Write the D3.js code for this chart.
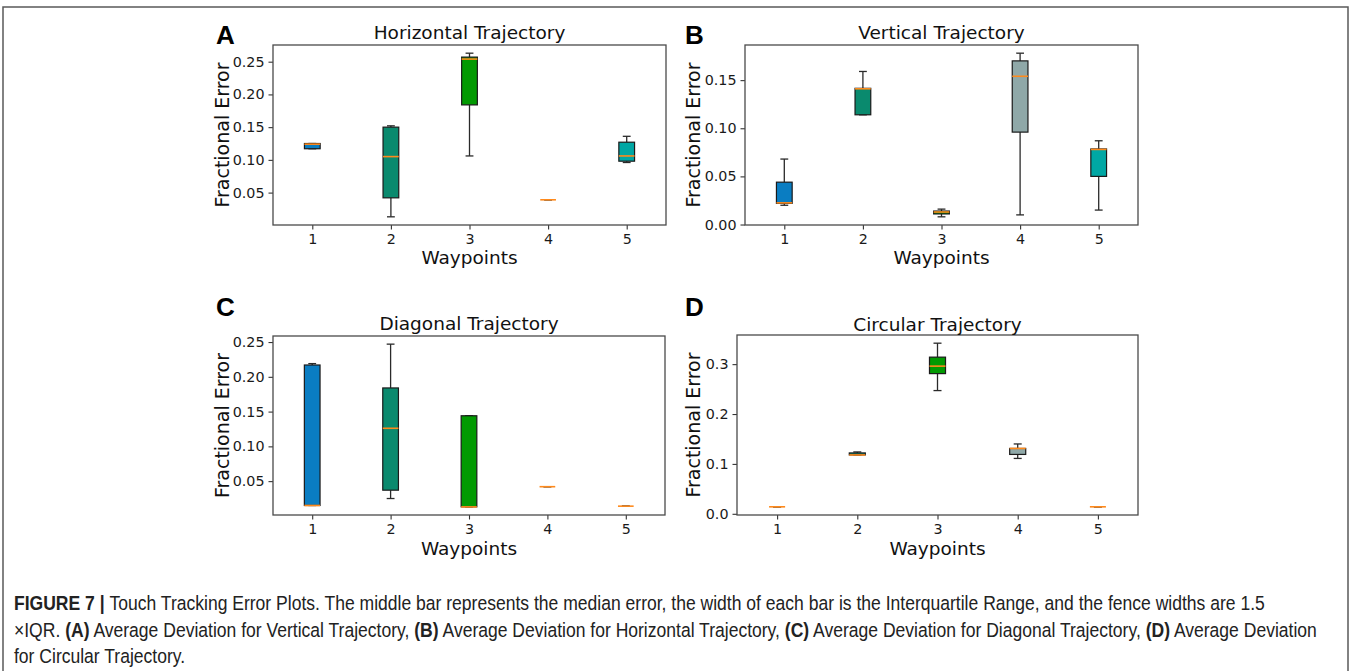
<!DOCTYPE html>
<html>
<head>
<meta charset="utf-8">
<script src="https://cdn.jsdelivr.net/npm/d3@7"></script>
<style>
  html, body { margin: 0; padding: 0; background: #fff; }
  svg { display: block; }
</style>
</head>
<body>
<svg id="fig" width="1351" height="671"></svg>
<script>
// Waypoint categories shared by all four panels
const waypoints = [1, 2, 3, 4, 5];
const boxColors = ["#0a7dc2", "#0a8a6e", "#029a02", "#8fa8a8", "#00a7a4"];

// Horizontal trajectory: whisker low, Q1, median, Q3, whisker high
const horizWhisLo = [0.117, 0.013, 0.106, 0.039, 0.096];
const horizQ1     = [0.117, 0.042, 0.184, 0.039, 0.098];
const horizMed    = [0.124, 0.105, 0.254, 0.039, 0.106];
const horizQ3     = [0.125, 0.150, 0.257, 0.039, 0.127];
const horizWhisHi = [0.125, 0.152, 0.263, 0.039, 0.136];
const horizTicks  = [0.05, 0.10, 0.15, 0.20, 0.25];

// Vertical trajectory
const vertWhisLo = [0.020, 0.114, 0.008, 0.010, 0.015];
const vertQ1     = [0.022, 0.114, 0.011, 0.096, 0.050];
const vertMed    = [0.0225, 0.141, 0.013, 0.154, 0.078];
const vertQ3     = [0.044, 0.1415, 0.014, 0.170, 0.0785];
const vertWhisHi = [0.068, 0.159, 0.016, 0.178, 0.087];
const vertTicks  = [0.00, 0.05, 0.10, 0.15];

// Diagonal trajectory
const diagWhisLo = [0.015, 0.025, 0.013, 0.042, 0.014];
const diagQ1     = [0.015, 0.037, 0.013, 0.042, 0.014];
const diagMed    = [0.015, 0.126, 0.013, 0.042, 0.014];
const diagQ3     = [0.217, 0.184, 0.144, 0.042, 0.014];
const diagWhisHi = [0.219, 0.247, 0.144, 0.042, 0.014];
const diagTicks  = [0.05, 0.10, 0.15, 0.20, 0.25];

// Circular trajectory
const circWhisLo = [0.014, 0.118, 0.247, 0.111, 0.014];
const circQ1     = [0.014, 0.118, 0.281, 0.119, 0.014];
const circMed    = [0.014, 0.118, 0.296, 0.131, 0.014];
const circQ3     = [0.014, 0.122, 0.314, 0.131, 0.014];
const circWhisHi = [0.014, 0.124, 0.342, 0.140, 0.014];
const circTicks  = [0.0, 0.1, 0.2, 0.3];

const panels = [
  { letter: "A", title: "Horizontal Trajectory", lo: horizWhisLo, q1: horizQ1, med: horizMed, q3: horizQ3, hi: horizWhisHi, ticks: horizTicks, fmt: ".2f",
    box: { left: 273, right: 666, top: 45, bottom: 225 }, letterX: 216, letterY: 44, labelX: 229, titleY: 39, xTickY: 244, xLabelY: 264 },
  { letter: "B", title: "Vertical Trajectory", lo: vertWhisLo, q1: vertQ1, med: vertMed, q3: vertQ3, hi: vertWhisHi, ticks: vertTicks, fmt: ".2f",
    box: { left: 745, right: 1138, top: 45, bottom: 225 }, letterX: 685, letterY: 44, labelX: 700, titleY: 39, xTickY: 244, xLabelY: 264 },
  { letter: "C", title: "Diagonal Trajectory", lo: diagWhisLo, q1: diagQ1, med: diagMed, q3: diagQ3, hi: diagWhisHi, ticks: diagTicks, fmt: ".2f",
    box: { left: 273, right: 665, top: 336, bottom: 515 }, letterX: 216, letterY: 316, labelX: 229, titleY: 330, xTickY: 534, xLabelY: 555 },
  { letter: "D", title: "Circular Trajectory", lo: circWhisLo, q1: circQ1, med: circMed, q3: circQ3, hi: circWhisHi, ticks: circTicks, fmt: ".1f",
    box: { left: 737, right: 1138, top: 335, bottom: 515 }, letterX: 685, letterY: 316, labelX: 700, titleY: 331, xTickY: 534, xLabelY: 555 }
];

const svg = d3.select("#fig");
svg.append("rect").attr("width", 1351).attr("height", 671).attr("fill", "#fff");

// figure frame (open at the bottom)
svg.append("path").attr("d", "M3,671 V7 H1348 V671")
  .attr("fill", "none").attr("stroke", "#5a5a5a").attr("stroke-width", 1.5);

const boxWidth = 0.2;   // in waypoint units
const capWidth = 0.1;
const mplFont = "'DejaVu Sans', sans-serif";

panels.forEach(p => {
  const b = p.box;
  const lo = d3.min(p.lo), hi = d3.max(p.hi), m = (hi - lo) * 0.05;
  const x = d3.scaleLinear().domain([0.5, 5.5]).range([b.left, b.right]);
  const y = d3.scaleLinear().domain([lo - m, hi + m]).range([b.bottom, b.top]);
  const g = svg.append("g");

  // y axis
  const yAxis = d3.axisLeft(y).tickValues(p.ticks).tickFormat(d3.format(p.fmt)).tickSizeOuter(0).tickSize(4.5).tickPadding(4);
  const ya = g.append("g").attr("transform", `translate(${b.left},0)`).call(yAxis);
  // x axis
  const xAxis = d3.axisBottom(x).tickValues(waypoints).tickFormat(d3.format("d")).tickSizeOuter(0).tickSize(4.5).tickPadding(5);
  const xa = g.append("g").attr("transform", `translate(0,${b.bottom})`).call(xAxis);
  [ya, xa].forEach(a => {
    a.select(".domain").remove();
    a.selectAll("line").attr("stroke", "#333").attr("stroke-width", 1.1);
    a.selectAll("text").attr("font-family", mplFont).attr("font-size", 14.3).attr("fill", "#1a1a1a");
  });
  xa.selectAll("text").attr("dy", null).attr("y", p.xTickY - b.bottom);

  const data = waypoints.map((w, i) => ({ w, lo: p.lo[i], q1: p.q1[i], med: p.med[i], q3: p.q3[i], hi: p.hi[i], c: boxColors[i] }));
  const bw = x(1 + boxWidth / 2) - x(1);
  const cw = x(1 + capWidth / 2) - x(1);

  const item = g.selectAll(".bx").data(data).join("g").attr("class", "bx");
  // whiskers
  item.append("line").attr("x1", d => x(d.w)).attr("x2", d => x(d.w))
    .attr("y1", d => y(d.q1)).attr("y2", d => y(d.lo))
    .attr("stroke", "#2a2a2a").attr("stroke-width", 1.3);
  item.append("line").attr("x1", d => x(d.w)).attr("x2", d => x(d.w))
    .attr("y1", d => y(d.q3)).attr("y2", d => y(d.hi))
    .attr("stroke", "#2a2a2a").attr("stroke-width", 1.3);
  // caps
  ["lo", "hi"].forEach(k => {
    item.append("line").attr("x1", d => x(d.w) - cw).attr("x2", d => x(d.w) + cw)
      .attr("y1", d => y(d[k])).attr("y2", d => y(d[k]))
      .attr("stroke", "#2a2a2a").attr("stroke-width", 1.3);
  });
  // boxes
  item.append("rect")
    .attr("x", d => x(d.w) - bw).attr("width", 2 * bw)
    .attr("y", d => y(d.q3)).attr("height", d => Math.max(0, y(d.q1) - y(d.q3)))
    .attr("fill", d => d.c).attr("stroke", "#1a1a1a").attr("stroke-width", 1.2);
  // medians
  item.append("line").attr("x1", d => x(d.w) - bw).attr("x2", d => x(d.w) + bw)
    .attr("y1", d => y(d.med)).attr("y2", d => y(d.med))
    .attr("stroke", "#ff8a1c").attr("stroke-width", 1.6);

  // spines
  g.append("rect").attr("x", b.left).attr("y", b.top)
    .attr("width", b.right - b.left).attr("height", b.bottom - b.top)
    .attr("fill", "none").attr("stroke", "#4a4a4a").attr("stroke-width", 1.3);

  // titles and labels
  g.append("text").attr("x", (b.left + b.right) / 2).attr("y", p.titleY)
    .attr("text-anchor", "middle").attr("font-family", mplFont).attr("font-size", 18.5).attr("fill", "#111")
    .text(p.title);
  g.append("text").attr("x", (b.left + b.right) / 2).attr("y", p.xLabelY)
    .attr("text-anchor", "middle").attr("font-family", mplFont).attr("font-size", 18.5).attr("fill", "#111")
    .text("Waypoints");
  g.append("text").attr("transform", `translate(${p.labelX},${(b.top + b.bottom) / 2}) rotate(-90)`)
    .attr("text-anchor", "middle").attr("font-family", mplFont).attr("font-size", 19).attr("fill", "#111")
    .text("Fractional Error");
  g.append("text").attr("x", p.letterX).attr("y", p.letterY)
    .attr("font-family", "'Liberation Sans', Arial, sans-serif").attr("font-weight", "bold").attr("font-size", 26).attr("fill", "#000")
    .text(p.letter);
});

// caption
const captionLines = [
  [["FIGURE 7 | ", true], ["Touch Tracking Error Plots. The middle bar represents the median error, the width of each bar is the Interquartile Range, and the fence widths are 1.5", false]],
  [["×IQR. ", false], ["(A)", true], [" Average Deviation for Vertical Trajectory, ", false], ["(B)", true], [" Average Deviation for Horizontal Trajectory, ", false], ["(C)", true], [" Average Deviation for Diagonal Trajectory, ", false], ["(D)", true], [" Average Deviation", false]],
  [["for Circular Trajectory.", false]]
];
const captionY = [610, 637, 663];
const capG = svg.append("g");
const lineNodes = captionLines.map((parts, i) => {
  const t = capG.append("text").attr("x", 0).attr("y", 0)
    .attr("font-family", "'Liberation Sans Narrow', 'Liberation Sans', Arial, sans-serif")
    .attr("font-size", 19.5).attr("fill", "#222").style("white-space", "pre");
  parts.forEach(([s, bold]) => t.append("tspan").attr("font-weight", bold ? "bold" : "normal").text(s));
  return t;
});
// scale horizontally so the longest line ends at its wrap point
const w2 = lineNodes[1].node().getComputedTextLength();
const k = (1318 - 14) / w2;
lineNodes.forEach((t, i) => t.attr("transform", `translate(14,${captionY[i]}) scale(${k},1)`));
</script>
</body>
</html>
